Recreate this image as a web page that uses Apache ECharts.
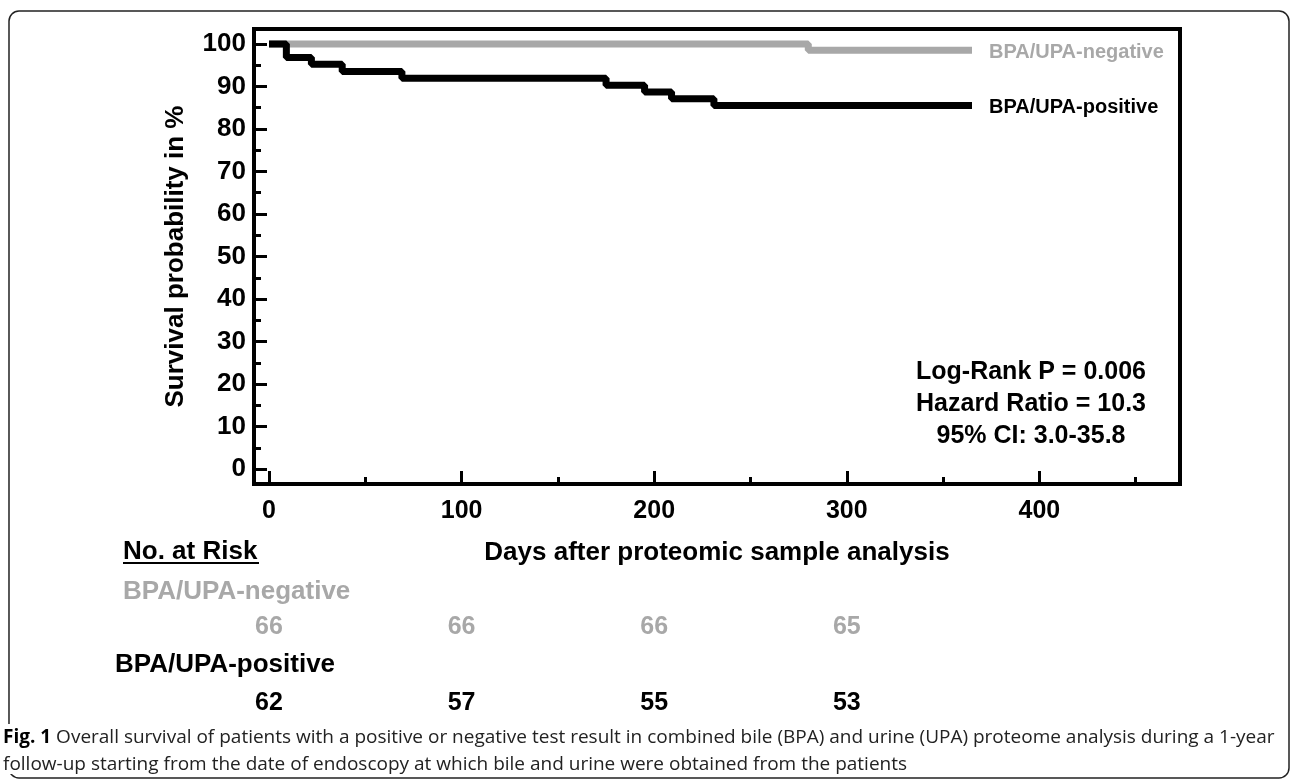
<!DOCTYPE html>
<html><head><meta charset="utf-8">
<script src="https://cdn.jsdelivr.net/npm/echarts@6/dist/echarts.min.js"></script>
<style>html,body{margin:0;padding:0;background:#fff}#c{width:1292px;height:780px}</style>
</head><body><div id="c"></div>
<script>
const negName = 'BPA/UPA-negative';
const posName = 'BPA/UPA-positive';
const negDays = [0, 280, 365];
const negSurv = [100, 98.5, 98.5];
const posDays = [0, 9, 22, 38, 69, 175, 195, 209, 231, 365];
const posSurv = [100, 96.8, 95.2, 93.5, 91.9, 90.3, 88.7, 87.1, 85.5, 85.5];
const xMajorTicks = [0, 100, 200, 300, 400];
const xMinorTicks = [50, 150, 250, 350, 450];
const yMajorTicks = [0, 10, 20, 30, 40, 50, 60, 70, 80, 90, 100];
const yMinorTicks = [5, 15, 25, 35, 45, 55, 65, 75, 85, 95];
const riskDays = [0, 100, 200, 300];
const negAtRisk = [66, 66, 66, 65];
const posAtRisk = [62, 57, 55, 53];
const statsLines = ['Log-Rank P = 0.006', 'Hazard Ratio = 10.3', '95% CI: 3.0-35.8'];
const xTitle = 'Days after proteomic sample analysis';
const yTitle = 'Survival probability in %';
const riskTitle = 'No. at Risk';
const captionBold = 'Fig. 1';
const captionText = ' Overall survival of patients with a positive or negative test result in combined bile (BPA) and urine (UPA) proteome analysis during a 1-year';
const captionText2 = 'follow-up starting from the date of endoscopy at which bile and urine were obtained from the patients';

const GRAY = '#a8a8a8';
const FONT = '"Liberation Sans", Arial, sans-serif';
const CAPFONT = '"Open Sans", sans-serif';
const chart = echarts.init(document.getElementById('c'));

const X_MIN = -7.8, X_MAX = 473, Y_MIN = -3.5, Y_MAX = 103.5;
const tickStyle = {color: '#000', width: 3};
const grid = {left: 254, top: 29, right: 112, bottom: 296, show: true, borderColor: '#000', borderWidth: 4, containLabel: false};

chart.setOption({
  animation: false,
  grid: grid,
  xAxis: [
    {type: 'value', min: X_MIN, max: X_MAX, position: 'bottom',
     axisLine: {show: true, onZero: false, lineStyle: {color: '#000', width: 4}},
     axisTick: {show: true, inside: true, length: 13, lineStyle: tickStyle, customValues: xMajorTicks},
     axisLabel: {show: true, customValues: xMajorTicks, margin: 15, color: '#000', fontFamily: FONT, fontWeight: 'bold', fontSize: 25},
     splitLine: {show: false},
     name: xTitle, nameLocation: 'middle', nameGap: 56,
     nameTextStyle: {color: '#000', fontFamily: FONT, fontWeight: 'bold', fontSize: 26}},
    {type: 'value', min: X_MIN, max: X_MAX, position: 'bottom',
     axisLine: {show: false, onZero: false},
     axisTick: {show: true, inside: true, length: 7, lineStyle: tickStyle, customValues: xMinorTicks},
     axisLabel: {show: false}, splitLine: {show: false}}
  ],
  yAxis: [
    {type: 'value', min: Y_MIN, max: Y_MAX, position: 'left',
     axisLine: {show: true, onZero: false, lineStyle: {color: '#000', width: 4}},
     axisTick: {show: true, inside: true, length: 13, lineStyle: tickStyle, customValues: yMajorTicks},
     axisLabel: {show: true, customValues: yMajorTicks, margin: 8, color: '#000', fontFamily: FONT, fontWeight: 'bold', fontSize: 26},
     splitLine: {show: false},
     name: yTitle, nameLocation: 'middle', nameGap: 65, nameRotate: 90,
     nameTextStyle: {color: '#000', fontFamily: FONT, fontWeight: 'bold', fontSize: 26}},
    {type: 'value', min: Y_MIN, max: Y_MAX, position: 'left',
     axisLine: {show: false, onZero: false},
     axisTick: {show: true, inside: true, length: 7, lineStyle: tickStyle, customValues: yMinorTicks},
     axisLabel: {show: false}, splitLine: {show: false}}
  ],
  series: [
    {name: negName, type: 'line', step: 'end', showSymbol: false, symbol: 'none',
     xAxisIndex: 0, yAxisIndex: 0,
     data: negDays.map((d, i) => [d, negSurv[i]]),
     lineStyle: {color: GRAY, width: 7},
     endLabel: {show: true, formatter: '{a}', distance: 17, offset: [0, 2], color: GRAY, fontFamily: FONT, fontWeight: 'bold', fontSize: 20}},
    {name: posName, type: 'line', step: 'end', showSymbol: false, symbol: 'none',
     xAxisIndex: 0, yAxisIndex: 0,
     data: posDays.map((d, i) => [d, posSurv[i]]),
     lineStyle: {color: '#000', width: 7},
     endLabel: {show: true, formatter: '{a}', distance: 17, offset: [0, 2], color: '#000', fontFamily: FONT, fontWeight: 'bold', fontSize: 20}}
  ]
});

const elements = [];
elements.push({type: 'rect', shape: {x: 9, y: 11, width: 1280, height: 767, r: 10}, style: {fill: 'none', stroke: '#222', lineWidth: 1.5}, silent: true});
statsLines.forEach((t, i) => {
  elements.push({type: 'text', x: 1031, y: 372 + i * 32, style: {text: t, fill: '#000', font: 'bold 25px ' + FONT, textAlign: 'center', textVerticalAlign: 'middle'}});
});
elements.push({type: 'text', x: 123, y: 552, style: {text: riskTitle, fill: '#000', font: 'bold 26px ' + FONT, textAlign: 'left', textVerticalAlign: 'middle'}});
elements.push({type: 'rect', shape: {x: 123, y: 562, width: 136, height: 2}, style: {fill: '#000'}});
elements.push({type: 'text', x: 123, y: 592, style: {text: negName, fill: GRAY, font: 'bold 26px ' + FONT, textAlign: 'left', textVerticalAlign: 'middle'}});
elements.push({type: 'text', x: 115, y: 665, style: {text: posName, fill: '#000', font: 'bold 26px ' + FONT, textAlign: 'left', textVerticalAlign: 'middle'}});
riskDays.forEach((d, i) => {
  const px = chart.convertToPixel({xAxisIndex: 0}, d);
  elements.push({type: 'text', x: px, y: 627, style: {text: String(negAtRisk[i]), fill: GRAY, font: 'bold 25px ' + FONT, textAlign: 'center', textVerticalAlign: 'middle'}});
  elements.push({type: 'text', x: px, y: 703, style: {text: String(posAtRisk[i]), fill: '#000', font: 'bold 25px ' + FONT, textAlign: 'center', textVerticalAlign: 'middle'}});
});
elements.push({type: 'rect', shape: {x: 0, y: 724, width: 30, height: 50}, style: {fill: '#fff'}});
elements.push({type: 'text', x: 3, y: 738, style: {
  text: '{b|' + captionBold + '}{r|' + captionText + '}',
  rich: {b: {fontFamily: CAPFONT, fontWeight: 'bold', fontSize: 19, fill: '#000'},
         r: {fontFamily: CAPFONT, fontSize: 19, fill: '#222'}},
  textAlign: 'left', textVerticalAlign: 'middle'}});
elements.push({type: 'text', x: 3, y: 765, style: {text: captionText2, fill: '#222', font: '19px ' + CAPFONT, textAlign: 'left', textVerticalAlign: 'middle'}});
chart.setOption({graphic: {elements: elements}});
</script>
</body></html>
